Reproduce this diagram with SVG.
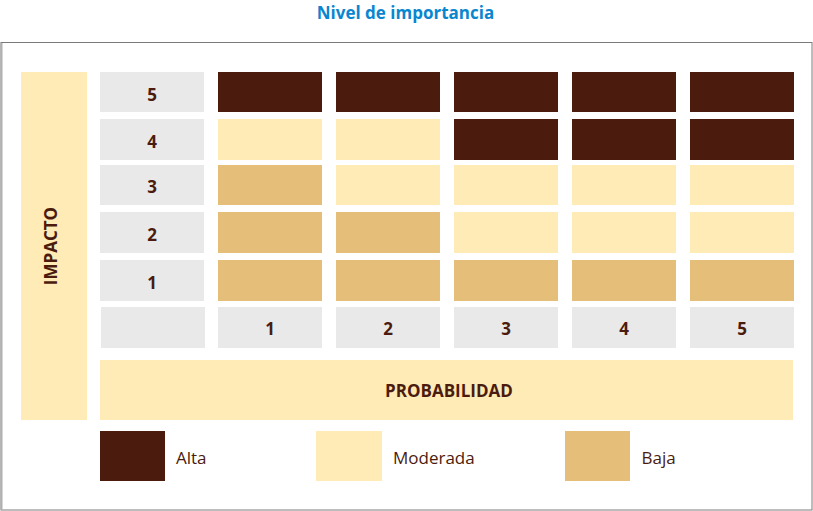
<svg xmlns="http://www.w3.org/2000/svg" width="813" height="511" viewBox="0 0 813 511">
<style>
.alta{fill:#4B1B0E}
.mod{fill:#FEEBB6}
.baja{fill:#E5BE7A}
.lbl{fill:#E9E9E9}
.num{font-family:"Open Sans","Noto Sans","Liberation Sans",sans-serif;font-weight:bold;font-size:17px;fill:#4B1B0E;text-anchor:middle}
.axis{font-family:"Open Sans","Noto Sans","Liberation Sans",sans-serif;font-weight:bold;font-size:17px;fill:#4B1B0E;text-anchor:middle}
.leg{font-family:"Open Sans","Noto Sans","Liberation Sans",sans-serif;font-size:17px;fill:#4B1B0E}
.title{font-family:"Open Sans","Noto Sans","Liberation Sans",sans-serif;font-weight:bold;font-size:17px;fill:#0A86CF;text-anchor:middle}
</style>
<rect width="813" height="511" fill="#FFFFFF"/>
<text class="title" x="405.5" y="19">Nivel de importancia</text>
<rect x="1" y="42.5" width="811" height="467.5" fill="#FFFFFF" stroke="#7A7A7A" stroke-width="1"/>
<line x1="1.5" y1="43" x2="1.5" y2="510" stroke="#B0B0B0" stroke-width="2"/>

<g id="impacto">
<rect x="21" y="72" width="66" height="348" class="mod"/>
<text class="axis" transform="translate(56.5,246) rotate(-90)" x="0" y="0">IMPACTO</text>
</g>

<g id="probabilidad">
<rect x="100" y="360" width="693" height="60" class="mod"/>
<text class="axis" x="449" y="397">PROBABILIDAD</text>
</g>

<g id="row-labels">
<rect x="100" y="72" width="104" height="40" class="lbl"/><text class="num" x="152" y="100.5">5</text>
<rect x="100" y="119" width="104" height="41" class="lbl"/><text class="num" x="152" y="147.5">4</text>
<rect x="100" y="165" width="104" height="40" class="lbl"/><text class="num" x="152" y="193">3</text>
<rect x="100" y="212" width="104" height="41" class="lbl"/><text class="num" x="152" y="240.5">2</text>
<rect x="100" y="260" width="104" height="41" class="lbl"/><text class="num" x="152" y="288.5">1</text>
<rect x="101" y="307" width="104" height="41" class="lbl"/>
</g>

<g id="col-labels">
<rect x="218" y="307" width="104" height="41" class="lbl"/><text class="num" x="270" y="334.5">1</text>
<rect x="336" y="307" width="104" height="41" class="lbl"/><text class="num" x="388" y="334.5">2</text>
<rect x="454" y="307" width="104" height="41" class="lbl"/><text class="num" x="506" y="334.5">3</text>
<rect x="572" y="307" width="104" height="41" class="lbl"/><text class="num" x="624" y="334.5">4</text>
<rect x="690" y="307" width="104" height="41" class="lbl"/><text class="num" x="742" y="334.5">5</text>
</g>

<g id="matrix">
<g id="row5">
<rect x="218" y="72" width="104" height="40" class="alta"/>
<rect x="336" y="72" width="104" height="40" class="alta"/>
<rect x="454" y="72" width="104" height="40" class="alta"/>
<rect x="572" y="72" width="104" height="40" class="alta"/>
<rect x="690" y="72" width="104" height="40" class="alta"/>
</g>
<g id="row4">
<rect x="218" y="119" width="104" height="41" class="mod"/>
<rect x="336" y="119" width="104" height="41" class="mod"/>
<rect x="454" y="119" width="104" height="41" class="alta"/>
<rect x="572" y="119" width="104" height="41" class="alta"/>
<rect x="690" y="119" width="104" height="41" class="alta"/>
</g>
<g id="row3">
<rect x="218" y="165" width="104" height="40" class="baja"/>
<rect x="336" y="165" width="104" height="40" class="mod"/>
<rect x="454" y="165" width="104" height="40" class="mod"/>
<rect x="572" y="165" width="104" height="40" class="mod"/>
<rect x="690" y="165" width="104" height="40" class="mod"/>
</g>
<g id="row2">
<rect x="218" y="212" width="104" height="41" class="baja"/>
<rect x="336" y="212" width="104" height="41" class="baja"/>
<rect x="454" y="212" width="104" height="41" class="mod"/>
<rect x="572" y="212" width="104" height="41" class="mod"/>
<rect x="690" y="212" width="104" height="41" class="mod"/>
</g>
<g id="row1">
<rect x="218" y="260" width="104" height="41" class="baja"/>
<rect x="336" y="260" width="104" height="41" class="baja"/>
<rect x="454" y="260" width="104" height="41" class="baja"/>
<rect x="572" y="260" width="104" height="41" class="baja"/>
<rect x="690" y="260" width="104" height="41" class="baja"/>
</g>
</g>

<g id="legend">
<g id="leg-alta"><rect x="100" y="431" width="65" height="50" class="alta"/><text class="leg" x="176" y="463.5">Alta</text></g>
<g id="leg-moderada"><rect x="316" y="431" width="66" height="50" class="mod"/><text class="leg" x="393" y="463.5">Moderada</text></g>
<g id="leg-baja"><rect x="565" y="431" width="65" height="50" class="baja"/><text class="leg" x="641.5" y="463.5">Baja</text></g>
</g>
<g id="connectors"/>
</svg>
